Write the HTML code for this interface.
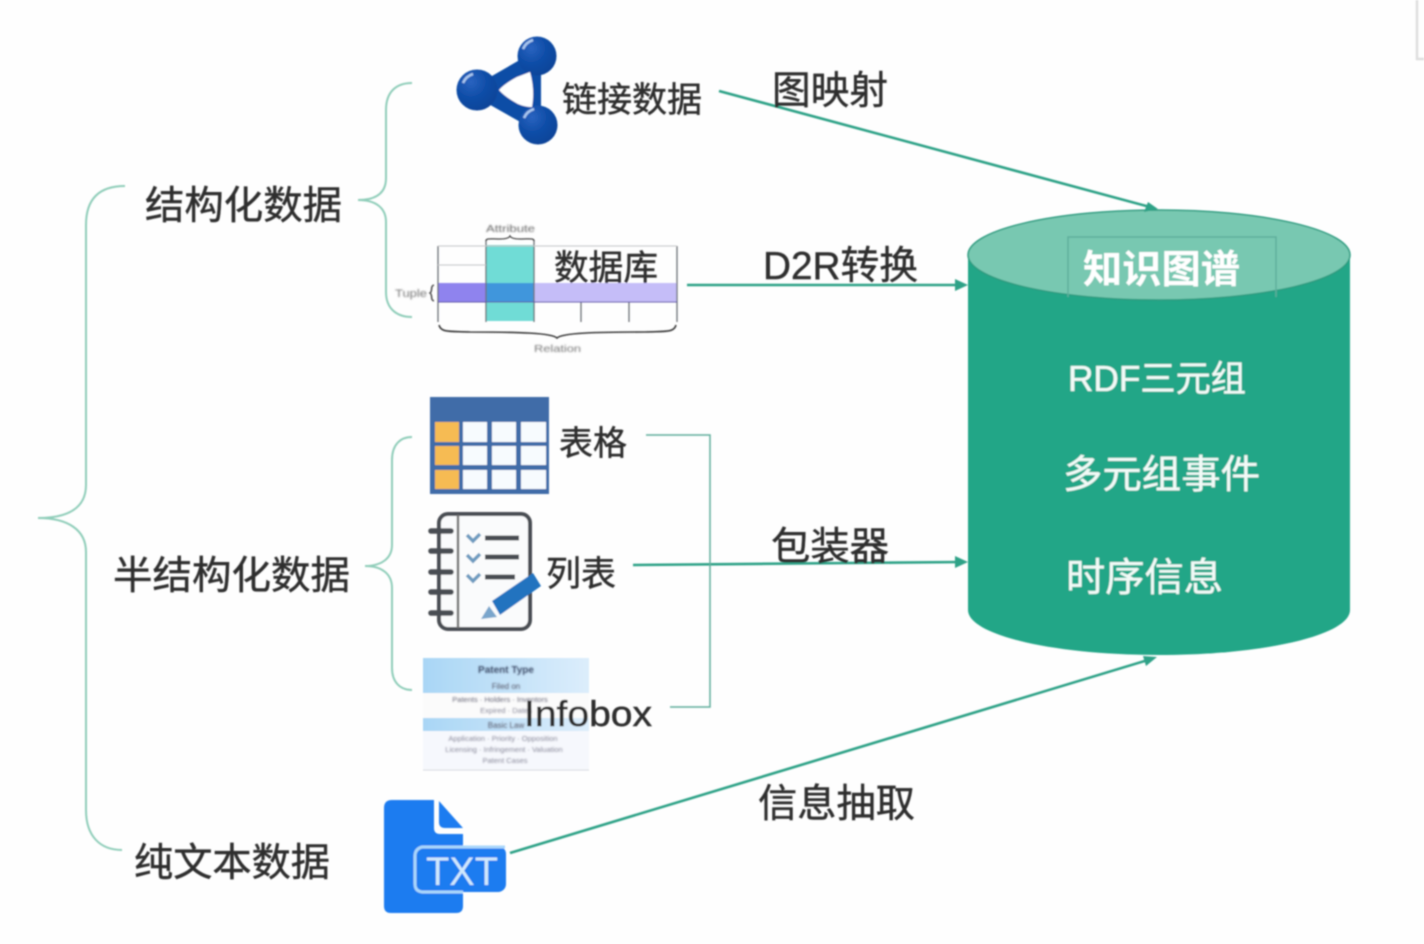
<!DOCTYPE html>
<html><head><meta charset="utf-8"><style>
html,body{margin:0;padding:0;background:#fefefe;width:1424px;height:944px;overflow:hidden}
svg{display:block}
text{font-family:"Liberation Sans","Noto Sans CJK SC",sans-serif;fill:#2e2e2e}
.l text{stroke:#2e2e2e;stroke-width:.45}
.w text{stroke:#f2faf7;stroke-width:.35}
</style></head><body>
<svg width="1424" height="944" viewBox="0 0 1424 944" xmlns="http://www.w3.org/2000/svg">
<defs>
<filter id="b" x="-5%" y="-5%" width="110%" height="110%"><feGaussianBlur stdDeviation="0.8"/></filter>
<filter id="b2" x="-5%" y="-10%" width="110%" height="120%"><feGaussianBlur stdDeviation="0.8"/></filter>
<linearGradient id="ib" x1="0" y1="0" x2="1" y2="0"><stop offset="0" stop-color="#a9d6f5"/><stop offset="1" stop-color="#dcedfb"/></linearGradient>
<radialGradient id="ball" cx="35%" cy="30%" r="75%"><stop offset="0" stop-color="#2a63c0"/><stop offset=".5" stop-color="#104ea8"/><stop offset="1" stop-color="#0c4398"/></radialGradient>
</defs>
<g filter="url(#b)">
<path d="M1417 0V59H1424" fill="none" stroke="#dedede" stroke-width="2.5"/>

<!-- braces -->
<g fill="none" stroke="#8fcdb9" stroke-width="2">
<path d="M125 186C100 186 86 198 86 225V485C86 508 68 518 38 518C68 518 86 530 86 552V810C86 836 100 850 122 850"/>
<path d="M412 83C396 83 386 92 386 110V178C386 193 376 200 358 200C376 200 386 208 386 222V292C386 308 396 317 412 317"/>
<path d="M412 437C400 437 392 445 392 460V545C392 558 382 566 365 566C382 566 392 574 392 588V668C392 682 400 690 412 690"/>
</g>

<!-- molecule -->
<g>
<path d="M537 50L478 84L478 98L538 132L541 125L541 57Z" fill="#0f4ea6"/>
<circle cx="537" cy="56" r="19.5" fill="url(#ball)"/>
<circle cx="477" cy="90" r="20.5" fill="url(#ball)"/>
<circle cx="538" cy="125" r="19.5" fill="url(#ball)"/>
<path d="M499 90Q504 84 517 77Q525 74 530 72Q535 90 532 107Q525 107 518 104Q505 97 499 90Z" fill="#fff"/>
<path d="M523 49a16 16 0 0 1 10-9" stroke="#a8c6ee" stroke-width="2.5" fill="none"/>
<path d="M463 83a16 16 0 0 1 10-9" stroke="#a8c6ee" stroke-width="2.5" fill="none"/>
<path d="M524 118a16 16 0 0 1 10-9" stroke="#a8c6ee" stroke-width="2.5" fill="none"/>
</g>

<!-- relation table -->
<g>
<rect x="438" y="283" width="48" height="19" fill="#8f83ee"/>
<rect x="534" y="283" width="143" height="19" fill="#c5bdf8"/>
<rect x="486" y="245" width="48" height="76" fill="#6fdcd6"/>
<rect x="486" y="283" width="48" height="19" fill="#3f96dc"/>
<g stroke="#6c7176" stroke-width="1" fill="none">
<path d="M438 246V322M486 240V322M534 240V322M581 302V322M629 302V322M677 246V322" stroke-width="1.3"/>
<path d="M438 246H677M438 265H486" stroke="#c4c6c8"/>
<path d="M438 302H677" stroke="#5f55a8"/>
</g>
<path d="M486 241C486 238 490 239 500 239C506 239 509 238 510 236C511 238 514 239 520 239C530 239 534 238 534 241" fill="none" stroke="#444" stroke-width="1.3"/>
<path d="M439 325C441 333 450 331 470 332C520 332 552 333 557 338C562 333 594 332 645 332C665 331 674 333 676 325" fill="none" stroke="#3a3a3a" stroke-width="1.6"/>
<path d="M434 285C430 286 433 291 430 293C433 295 430 300 434 301" fill="none" stroke="#555" stroke-width="1.6"/>
<text x="486" y="232" font-size="10.5" textLength="49" lengthAdjust="spacingAndGlyphs" style="fill:#666" filter="url(#b2)">Attribute</text>
<text x="395" y="297" font-size="11" textLength="32" lengthAdjust="spacingAndGlyphs" style="fill:#777" filter="url(#b2)">Tuple</text>
<text x="534" y="352" font-size="10.5" textLength="47" lengthAdjust="spacingAndGlyphs" style="fill:#777" filter="url(#b2)">Relation</text>
</g>

<!-- table icon -->
<g>
<rect x="430" y="397" width="119" height="97" fill="#3f6ca8"/>
<rect x="435" y="422" width="24" height="20" fill="#f6bb52"/>
<rect x="435" y="446" width="24" height="19" fill="#f6bb52"/>
<rect x="435" y="470" width="24" height="19" fill="#f6bb52"/>
<g fill="#f7fbfe">
<rect x="463" y="422" width="24" height="20"/><rect x="492" y="422" width="24" height="20"/><rect x="521" y="422" width="25" height="20"/>
<rect x="463" y="446" width="24" height="19"/><rect x="492" y="446" width="24" height="19"/><rect x="521" y="446" width="25" height="19"/>
<rect x="463" y="470" width="24" height="19"/><rect x="492" y="470" width="24" height="19"/><rect x="521" y="470" width="25" height="19"/>
</g>
</g>

<!-- notebook icon -->
<g fill="none" stroke="#4a4d52">
<rect x="439" y="514" width="91" height="115" rx="9" fill="#fafbfc" stroke-width="4"/>
<path d="M458 515V628" stroke="#777" stroke-width="2.5"/>
<path d="M431 531H451M431 551H451M431 572H451M431 592H451M431 613H451" stroke-width="5.5" stroke-linecap="round"/>
<path d="M485 538H519M485 557H519M485 577H515" stroke-width="5"/>
<path d="M467 535L473 541L480 534M467 555L473 561L480 554M467 575L473 581L480 574" stroke="#6e9bc0" stroke-width="3.5"/>
<path d="M492 601L533 573L541 586L500 615Z" fill="#2273bf" stroke="none"/>
<path d="M489 606L497 617L481 619Z" fill="#7aa6cc" stroke="none"/>
</g>

<!-- infobox -->
<g>
<rect x="423" y="658" width="166" height="35" fill="url(#ib)"/>
<rect x="423" y="718" width="166" height="13" fill="url(#ib)"/>
<rect x="423" y="693" width="166" height="25" fill="#fbfbfb"/>
<rect x="423" y="731" width="166" height="38" fill="#f6f8fd"/>
<path d="M423 770H589" stroke="#d4d8df"/>
<g text-anchor="middle" filter="url(#b2)">
<text x="506" y="673" font-size="10" font-weight="bold" style="fill:#3b4a66">Patent Type</text>
<text x="506" y="689" font-size="8" style="fill:#556">Filed on</text>
<text x="500" y="702" font-size="7.5" style="fill:#667">Patents · Holders · Inventors</text>
<text x="506" y="713" font-size="7.5" style="fill:#889">Expired · Dates</text>
<text x="506" y="728" font-size="8" style="fill:#556">Basic Law</text>
<text x="503" y="741" font-size="7.5" style="fill:#889">Application · Priority · Opposition</text>
<text x="504" y="752" font-size="7.5" style="fill:#889">Licensing · Infringement · Valuation</text>
<text x="505" y="763" font-size="7.5" style="fill:#889">Patent Cases</text>
</g>
</g>

<!-- TXT icon -->
<g>
<path d="M392 800H434V828Q434 834 440 834H463V906Q463 913 456 913H391Q384 913 384 906V808Q384 800 392 800Z" fill="#1a7cf0"/>
<path d="M439 801L463 828H445Q439 828 439 822Z" fill="#1a7cf0"/>
<rect x="416" y="846" width="90" height="46" rx="8" fill="#1a7cf0"/>
<path d="M463 892H422Q415 891 415 884V856Q415 849 422 847H505" fill="none" stroke="#a9d6fb" stroke-width="3"/>
<text x="426" y="885" font-size="40" textLength="72" lengthAdjust="spacingAndGlyphs" style="fill:#cfe8fd">TXT</text>
</g>

<!-- cylinder -->
<path d="M968 255V610C968 635 1053 655 1159 655C1265 655 1350 635 1350 610V255Z" fill="#23a687"/>
<ellipse cx="1159" cy="255" rx="191" ry="45" fill="#78c8b1" stroke="#2a9c80" stroke-width="1.5"/>
<path d="M1068 297V237H1276V297" fill="none" stroke="#5fae9b" stroke-width="1.5"/>

<!-- connectors -->
<g stroke="#2ea287" stroke-width="2.6" fill="none">
<path d="M719 91L1150 207"/>
<path d="M687 285H962"/>
<path d="M633 565L962 562"/>
<path d="M510 853L1148 660"/>
</g>
<path d="M646 435H710V707H670" fill="none" stroke="#5fae9b" stroke-width="1.5"/>
<g fill="#2ea287">
<path d="M1158 209L1144 212L1148 202Z"/>
<path d="M968 285L955 279V291Z"/>
<path d="M968 562L955 556V568Z"/>
<path d="M1157 657L1146 666L1143 656Z"/>
</g>

<!-- labels -->
<g class="l">
<text x="145" y="219" font-size="39" textLength="197" lengthAdjust="spacingAndGlyphs">结构化数据</text>
<text x="113" y="589" font-size="39" textLength="237" lengthAdjust="spacingAndGlyphs">半结构化数据</text>
<text x="134" y="876" font-size="39" textLength="196" lengthAdjust="spacingAndGlyphs">纯文本数据</text>
<text x="562" y="112" font-size="35" textLength="140" lengthAdjust="spacingAndGlyphs">链接数据</text>
<text x="772" y="104" font-size="39" textLength="116" lengthAdjust="spacingAndGlyphs">图映射</text>
<text x="554" y="280" font-size="35" textLength="104" lengthAdjust="spacingAndGlyphs">数据库</text>
<text x="763" y="279" font-size="39" textLength="155" lengthAdjust="spacingAndGlyphs">D2R转换</text>
<text x="559" y="455" font-size="34" textLength="68" lengthAdjust="spacingAndGlyphs">表格</text>
<text x="546" y="586" font-size="35" textLength="70" lengthAdjust="spacingAndGlyphs">列表</text>
<text x="524" y="726" font-size="36" textLength="128" lengthAdjust="spacingAndGlyphs">Infobox</text>
<text x="771" y="560" font-size="39" textLength="118" lengthAdjust="spacingAndGlyphs">包装器</text>
<text x="758" y="817" font-size="39" textLength="157" lengthAdjust="spacingAndGlyphs">信息抽取</text>
</g>
<text x="1083" y="283" font-size="39" font-weight="bold" textLength="157" lengthAdjust="spacingAndGlyphs" style="fill:#fff">知识图谱</text>
<g class="w">
<text x="1068" y="391" font-size="36" textLength="178" lengthAdjust="spacingAndGlyphs" style="fill:#f2faf7">RDF三元组</text>
<text x="1063" y="488" font-size="39" textLength="197" lengthAdjust="spacingAndGlyphs" style="fill:#f2faf7">多元组事件</text>
<text x="1066" y="591" font-size="39" textLength="157" lengthAdjust="spacingAndGlyphs" style="fill:#f2faf7">时序信息</text>
</g>
</g>
</svg>
</body></html>
